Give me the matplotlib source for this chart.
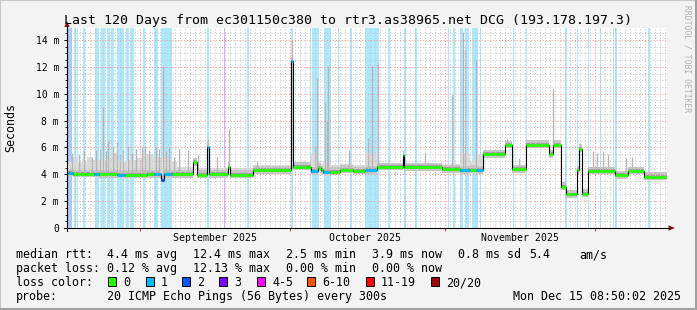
import datetime as dt
import numpy as np
import matplotlib
matplotlib.use("Agg")
import matplotlib.pyplot as plt
from matplotlib.patches import Rectangle, Polygon
from matplotlib.lines import Line2D

W, H = 697, 310
MONO = "DejaVu Sans Mono"

# ---------------- data ----------------
start_time = dt.datetime(2025, 8, 17, 8, 50, 2)
span_days = 120

# median rtt (ms) as steps: start day of each step, value, lost pings
seg_start = [0.0, 1.2, 2.0, 3.6, 5.4, 6.4, 8.6, 10.0, 11.6, 14.6, 16.0, 17.4, 18.8, 19.3,
             21.0, 25.2, 26.0, 28.0, 28.3, 32.2, 32.5, 37.2, 44.8, 45.1, 48.8, 50.2, 50.8,
             51.2, 52.6, 54.6, 57.2, 59.6, 62.0, 67.2, 67.4, 75.0, 78.6, 80.6, 81.8, 83.2,
             87.6, 89.0, 91.8, 96.4, 97.2, 98.8, 99.8, 102.0, 102.4, 103.0, 104.2, 109.6,
             112.2, 115.4]
seg_median = [4.10, 4.02, 4.02, 4.02, 4.02, 4.00, 4.00, 3.98, 3.98, 3.98, 4.00, 4.00, 3.60, 4.00,
              4.00, 4.90, 3.98, 6.05, 4.00, 4.56, 3.98, 4.30, 12.40, 4.56, 4.24, 4.50, 4.30,
              4.18, 4.20, 4.35, 4.25, 4.30, 4.55, 5.40, 4.52, 4.38, 4.30, 4.35, 4.30, 5.50,
              6.18, 4.38, 6.20, 5.50, 6.20, 3.08, 2.50, 4.30, 5.90, 2.55, 4.24, 3.92,
              4.25, 3.82]
seg_loss = [1, 0, 0, 0, 1, 0, 0, 1, 0, 0, 0, 1, 2, 1,
            0, 0, 0, 1, 0, 0, 0, 0, 1, 0, 1, 0, 0,
            1, 0, 0, 0, 1, 0, 0, 0, 0, 1, 0, 1, 0,
            0, 0, 0, 0, 0, 0, 0, 0, 0, 0, 0, 0,
            0, 0]

# upper edge of the smoke (ms), as steps
smoke_start = [0, 1, 2, 3, 4, 5, 6, 7, 8, 9, 10, 11, 12, 13, 14, 15, 16, 17, 18, 19, 20, 21,
               22, 25.2, 26.0, 28.0, 28.3, 32.2, 32.5, 37.2, 44.8, 45.1, 48.8, 50.2, 50.8,
               51.2, 52.6, 54.6, 57.2, 59.6, 62.0, 67.2, 67.4, 75.0, 78.6, 80.6, 81.8, 83.2,
               87.6, 89.0, 91.8, 96.4, 97.2, 98.8, 99.8, 102.0, 102.4, 103.0, 104.2, 109.6,
               112.2, 115.4]
smoke_top = [4.95, 5.3, 4.9, 4.9, 5.3, 5.1, 5.1, 5.0, 5.2, 5.6, 5.0, 4.9, 5.1, 5.1, 5.2, 5.5,
             5.5, 5.4, 5.3, 5.3, 5.2, 4.9,
             4.55, 5.2, 4.5, 6.3, 4.5, 4.8, 4.5, 4.7, 14.0, 4.9, 5.6, 5.0, 4.8,
             5.0, 4.7, 4.8, 4.7, 5.6, 4.85, 5.6, 4.85, 4.8, 5.6, 5.0, 5.4, 5.8,
             6.5, 4.7, 6.55, 5.8, 6.5, 3.35, 2.75, 4.6, 6.2, 2.8, 4.55, 4.2,
             4.55, 4.1]

# single high pings (day, rtt ms)
spike_day = [1.0, 2.4, 3.4, 4.9, 5.8, 6.6, 7.1, 7.8, 8.2, 9.2, 9.9, 10.6, 11.2, 12.2, 13.0,
             13.8, 14.9, 15.6, 16.4, 17.8, 18.4, 19.2, 19.8, 20.4, 21.4, 22.4, 24.2, 26.2,
             28.1, 29.9, 32.4, 37.9, 44.9, 49.6, 50.0, 51.6, 51.9, 52.2, 56.4, 60.2, 60.9,
             62.1, 71.6, 77.0, 79.2, 79.6, 81.8, 88.0, 90.4, 97.2, 105.2, 106.0, 107.2,
             108.2, 111.8, 113.0]
spike_top = [5.6, 5.5, 5.7, 5.3, 5.8, 5.9, 9.0, 5.7, 6.55, 6.0, 6.4, 5.5, 5.8, 6.1, 5.6,
             5.9, 6.05, 6.1, 5.8, 6.0, 5.9, 12.1, 5.7, 5.96, 5.3, 5.9, 5.8, 5.5,
             6.6, 5.3, 7.4, 5.0, 14.0, 6.2, 11.2, 9.3, 8.0, 12.1, 5.8, 6.7, 12.1,
             12.3, 5.6, 9.9, 14.6, 13.3, 12.6, 6.6, 5.2, 10.4, 5.7, 5.6, 5.7,
             5.5, 5.2, 5.3]

# periods with packet loss (start day, end day, lost pings)
loss_start = [0.0, 1.4, 2.0, 3.2, 5.6, 6.8, 8.0, 8.8, 10.0, 11.8, 12.6, 15.2, 17.4, 18.8,
              28.0, 31.3, 36.0, 44.8, 48.5, 49.0, 51.4, 54.1, 56.6, 59.6, 64.2, 67.4, 69.6,
              76.1, 77.2, 78.6, 79.6, 80.9, 82.6, 89.1, 91.8, 99.6, 102.0, 104.2, 106.6,
              109.1, 109.6, 116.2]
loss_end = [1.0, 1.7, 2.2, 3.6, 6.3, 7.6, 8.6, 9.4, 11.3, 12.3, 13.4, 15.5, 18.2, 21.0,
            28.4, 31.6, 36.3, 45.2, 48.8, 50.4, 52.8, 54.4, 57.0, 62.4, 64.5, 67.7, 69.9,
            76.4, 77.6, 79.1, 80.4, 82.2, 82.8, 89.3, 92.0, 99.9, 102.2, 104.4, 106.8,
            109.3, 109.9, 116.5]
loss_count = [2, 1, 1, 1, 1, 1, 1, 1, 1, 1, 1, 1, 1, 1,
              1, 3, 1, 1, 1, 1, 1, 1, 1, 1, 1, 1, 1,
              1, 1, 1, 1, 1, 1, 1, 1, 1, 1, 1, 1,
              1, 1, 1]

y_ticks = [0, 2, 4, 6, 8, 10, 12, 14]
y_tick_labels = ["0", "2 m", "4 m", "6 m", "8 m", "10 m", "12 m", "14 m"]
month_label_text = ["September 2025", "October 2025", "November 2025"]
month_label_dates = [dt.datetime(2025, 9, 16), dt.datetime(2025, 10, 16), dt.datetime(2025, 11, 16)]
month_start_dates = [dt.datetime(2025, 9, 1), dt.datetime(2025, 10, 1),
                     dt.datetime(2025, 11, 1), dt.datetime(2025, 12, 1)]

title = "Last 120 Days from ec301150c380 to rtr3.as38965.net DCG (193.178.197.3)"
rtt_label = "median rtt:"
rtt_stats = ["4.4 ms avg", "12.4 ms max", "2.5 ms min", "3.9 ms now", "0.8 ms sd", "5.4", "am/s"]
loss_label = "packet loss:"
loss_stats = ["0.12 % avg", "12.13 % max", "0.00 % min", "0.00 % now"]
color_label = "loss color:"
loss_legend_labels = ["0", "1", "2", "3", "4-5", "6-10", "11-19", "20/20"]
loss_legend_colors = ["#26ff00", "#00b8ff", "#0059ff", "#7e00ff", "#ff00ff", "#ff5500", "#ff0000", "#a10000"]
probe_label = "probe:"
probe_text = "20 ICMP Echo Pings (56 Bytes) every 300s"
stamp_text = "Mon Dec 15 08:50:02 2025"

# ---------------- helpers ----------------
def day_of(t):
    return (t - start_time).total_seconds() / 86400.0

def fpx(x, y):
    return x / W, 1 - y / H

def loss_idx(n):
    if n <= 3:
        return n
    if n <= 5:
        return 4
    if n <= 10:
        return 5
    if n <= 19:
        return 6
    return 7

def tint(hexcol, a):
    r, g, b = matplotlib.colors.to_rgb(hexcol)
    return (1 - a + a * r, 1 - a + a * g, 1 - a + a * b)

def step_at(starts, vals, x):
    i = np.searchsorted(np.asarray(starts), x, side="right") - 1
    return np.asarray(vals)[i]

# ---------------- figure ----------------
fig = plt.figure(figsize=(W / 100, H / 100), dpi=100)
fig.patch.set_facecolor("#f3f3f3")

ax_left, ax_right, ax_top, ax_bottom = 67, 667, 28, 228
ax = fig.add_axes([ax_left / W, 1 - ax_bottom / H, (ax_right - ax_left) / W, (ax_bottom - ax_top) / H])
ax.set_facecolor("white")
ymax = 14 * 200 / 188.0
ax.set_xlim(0, span_days)
ax.set_ylim(0, ymax)
for s in ax.spines.values():
    s.set_visible(False)

# loss bars
for s, e, n in zip(loss_start, loss_end, loss_count):
    ax.axvspan(s, e, color=tint(loss_legend_colors[loss_idx(n)], 0.32), lw=0, zorder=1)

edges = np.array(seg_start + [span_days])
med = np.array(seg_median)

# smoke
all_edges = np.unique(np.concatenate([seg_start, smoke_start, [span_days]]))
lefts = all_edges[:-1]
med_u = step_at(seg_start, seg_median, lefts)
top_u = np.maximum(step_at(smoke_start, smoke_top, lefts), med_u)
ax.stairs(top_u, all_edges, baseline=med_u, fill=True, color="#dcdcdc", lw=0, zorder=2)
ax.stairs(med + 0.32, edges, baseline=med - 0.25, fill=True, color="#c6c6c6", lw=0, zorder=2.1)
ax.stairs(med + 0.14, edges, baseline=med - 0.12, fill=True, color="#9e9e9e", lw=0, zorder=2.2)

sd = np.array(spike_day)
ax.vlines(sd, step_at(seg_start, seg_median, sd), spike_top, color="#b4b4b4", lw=0.9, zorder=2.3)

# grid
month_days = [day_of(t) for t in month_start_dates]
mid = dt.datetime(2025, 8, 18)
minor_days = []
while day_of(mid) < span_days:
    d = day_of(mid)
    if all(abs(d - m) > 0.01 for m in month_days):
        minor_days.append(d)
    mid += dt.timedelta(days=1)
ax.vlines(minor_days, 0, ymax, color="#c4c4c4", lw=0.7, linestyles=(0, (1, 2)), zorder=2.5)
hminor = [v for v in np.arange(0.5, ymax, 0.5) if abs(v / 2 - round(v / 2)) > 1e-6]
ax.hlines(hminor, 0, span_days, color="#c4c4c4", lw=0.7, linestyles=(0, (1, 2)), zorder=2.5)
ax.vlines(month_days, 0, ymax, color="#ff8a8a", lw=0.7, linestyles=(0, (1, 2)), zorder=2.6)
ax.hlines(y_ticks[1:], 0, span_days, color="#ff8a8a", lw=0.7, linestyles=(0, (1, 2)), zorder=2.6)

# median line
ax.stairs(med, edges, baseline=None, color="black", lw=0.8, zorder=3)
ax.hlines(med, edges[:-1], edges[1:], colors=[loss_legend_colors[loss_idx(n)] for n in seg_loss],
          lw=2.0, zorder=4, capstyle="butt")

# ticks
ax.set_yticks(y_ticks, y_tick_labels, fontfamily=MONO, fontsize=7)
ax.set_yticks(np.arange(0, ymax, 0.5), minor=True)
ax.tick_params(axis="y", which="major", length=2.5, width=0.7, pad=3.2, direction="out")
ax.tick_params(axis="y", which="minor", length=1.5, width=0.6, direction="out")
ax.set_xticks(month_days, [""] * len(month_days))
ax.tick_params(axis="x", which="major", length=2.0, width=0.7, color="#d04040", direction="out")
for txt, t in zip(month_label_text, month_label_dates):
    ax.text(day_of(t), -13 / 200, txt, transform=ax.get_xaxis_transform(), ha="center",
            va="baseline", fontfamily=MONO, fontsize=7.1, clip_on=False)

# axes lines with arrows
fig.add_artist(Line2D([64 / W, 670 / W], [1 - 228 / H] * 2, transform=fig.transFigure, color="black", lw=0.8))
fig.add_artist(Line2D([67 / W] * 2, [1 - 231 / H, 1 - 26 / H], transform=fig.transFigure, color="black", lw=0.8))
fig.add_artist(Polygon([fpx(64.3, 27), fpx(69.7, 27), fpx(67, 21)], closed=True, transform=fig.transFigure,
                       facecolor="#8b1010", edgecolor="none"))
fig.add_artist(Polygon([fpx(668.5, 225.3), fpx(668.5, 230.7), fpx(675, 228)], closed=True, transform=fig.transFigure,
                       facecolor="#8b1010", edgecolor="none"))

# texts
fig.text(*fpx(64, 24), title, fontfamily=MONO, fontsize=9.5, ha="left", va="baseline")
fig.text(*fpx(11, 128), "Seconds", fontfamily=MONO, fontsize=8.4, rotation=90, ha="center", va="center")
fig.text(*fpx(687, 5), "RRDTOOL / TOBI OETIKER", fontfamily=MONO, fontsize=5.8, rotation=270,
         ha="center", va="top", color="#b0b0b0")

LS = 8.4
fig.text(*fpx(16, 258), rtt_label, fontfamily=MONO, fontsize=LS, va="baseline")
for x, s in zip([107, 193, 286, 372, 458, 529, 579], rtt_stats):
    fig.text(*fpx(x, 258), s, fontfamily=MONO, fontsize=LS, va="baseline")
fig.text(*fpx(16, 272), loss_label, fontfamily=MONO, fontsize=LS, va="baseline")
for x, s in zip([107, 193, 286, 372], loss_stats):
    fig.text(*fpx(x, 272), s, fontfamily=MONO, fontsize=LS, va="baseline")
fig.text(*fpx(16, 286), color_label, fontfamily=MONO, fontsize=LS, va="baseline")
for x, lab, col in zip([108, 146, 182, 219, 257, 307, 366, 431], loss_legend_labels, loss_legend_colors):
    x0, y0 = fpx(x, 286)
    fig.add_artist(Rectangle((x0, y0), 7.5 / W, 9 / H, transform=fig.transFigure,
                             facecolor=col, edgecolor="black", lw=0.7))
    fig.text(*fpx(x + 15, 286), lab, fontfamily=MONO, fontsize=LS, va="baseline")
fig.text(*fpx(16, 300), probe_label, fontfamily=MONO, fontsize=LS, va="baseline")
fig.text(*fpx(107, 300), probe_text, fontfamily=MONO, fontsize=LS, va="baseline")
fig.text(*fpx(513, 300), stamp_text, fontfamily=MONO, fontsize=LS, va="baseline")

# frame
fig.add_artist(Rectangle((0, 0), 1, 1, transform=fig.transFigure, fill=False, edgecolor="#c8c8c8", lw=1.5))
fig.add_artist(Line2D([1 - 1 / W] * 2, [0, 1], transform=fig.transFigure, color="#a0a0a0", lw=2.2))
fig.add_artist(Line2D([0, 1], [1 / H] * 2, transform=fig.transFigure, color="#a0a0a0", lw=2.2))

fig.savefig("out.png", dpi=100, facecolor=fig.get_facecolor())
